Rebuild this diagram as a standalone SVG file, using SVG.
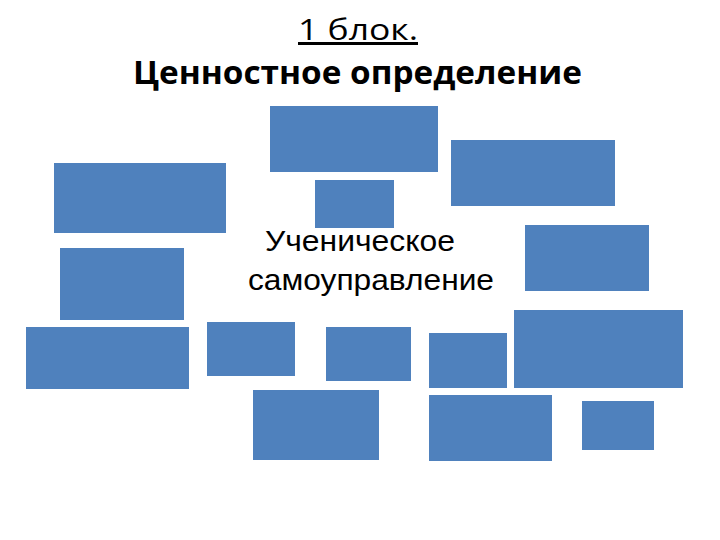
<svg xmlns="http://www.w3.org/2000/svg" width="720" height="540" viewBox="0 0 720 540">
<style>
.b{fill:#4f81bd}
.t{font-family:"Open Sans","Liberation Sans",sans-serif;fill:#000}
.c{font-family:"Liberation Sans",Arial,sans-serif;font-size:29px;fill:#000}
</style>
<rect width="720" height="540" fill="#fff"/>
<g id="title">
<text class="t" x="298" y="40" font-size="30" textLength="120" lengthAdjust="spacingAndGlyphs" text-decoration="underline">1 блок.</text>
<text class="t" x="133" y="84" font-size="32" font-weight="bold" textLength="449" lengthAdjust="spacingAndGlyphs">Ценностное определение</text>
</g>
<g id="center">
<text class="c" x="265" y="251" textLength="190" lengthAdjust="spacingAndGlyphs">Ученическое</text>
<text class="c" x="248" y="290" textLength="246" lengthAdjust="spacingAndGlyphs">самоуправление</text>
</g>
<g id="boxes">
<rect id="n1" class="b" x="270" y="106" width="168" height="66"/>
<rect id="n2" class="b" x="315" y="180" width="79" height="48"/>
<rect id="n3" class="b" x="451" y="140" width="164" height="66"/>
<rect id="n4" class="b" x="525" y="225" width="124" height="66"/>
<rect id="n5" class="b" x="54" y="163" width="172" height="70"/>
<rect id="n6" class="b" x="60" y="248" width="124" height="72"/>
<rect id="n7" class="b" x="26" y="327" width="163" height="62"/>
<rect id="n8" class="b" x="207" y="322" width="88" height="54"/>
<rect id="n9" class="b" x="326" y="327" width="85" height="54"/>
<rect id="n10" class="b" x="429" y="333" width="78" height="55"/>
<rect id="n11" class="b" x="514" y="310" width="169" height="78"/>
<rect id="n12" class="b" x="253" y="390" width="126" height="70"/>
<rect id="n13" class="b" x="429" y="395" width="123" height="66"/>
<rect id="n14" class="b" x="582" y="401" width="72" height="49"/>
</g>
<g id="connectors"/>
</svg>
